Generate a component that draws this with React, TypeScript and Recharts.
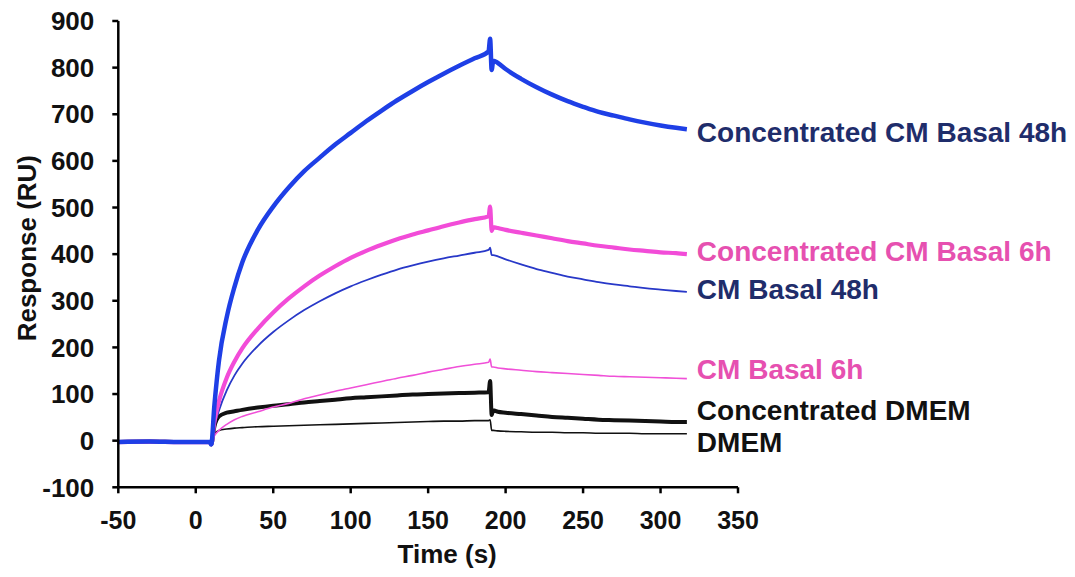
import React from "react";
import { LineChart, Line, XAxis, YAxis, Label } from "recharts";

const FONT = "'Liberation Sans', Arial, Helvetica, sans-serif";

const TIME = [-50, -30, -10, 0, 9, 10, 12, 15, 20, 25, 30, 40, 50, 60, 70, 80, 90, 100, 110, 120, 130, 140, 150, 160, 170, 180, 189, 190, 191, 192, 195, 200, 210, 220, 230, 240, 250, 260, 270, 280, 290, 300, 310, 317];

const CONC_48H = [-3, -2, -3, -3, -3, -8, 75, 172, 265, 330, 382, 452, 502, 543, 578, 607, 635, 660, 685, 708, 730, 750, 769, 787, 804, 820, 835, 862, 795, 815, 810, 797, 776, 758, 742, 728, 716, 705, 697, 689, 682, 676, 671, 668];
const CONC_6H = [-3, -2, -3, -3, -3, -8, 40, 85, 135, 170, 198, 240, 275, 305, 331, 354, 374, 392, 407, 420, 432, 442, 451, 460, 468, 475, 481, 502, 450, 458, 456, 452, 446, 440, 434, 428, 423, 418, 414, 410, 407, 404, 402, 400];
const CM_48H = [-3, -2, -3, -3, -3, -8, 30, 65, 108, 140, 165, 203, 233, 258, 280, 299, 316, 331, 344, 356, 367, 376, 384, 391, 397, 403, 409, 414, 398, 398, 395, 389, 378, 368, 360, 352, 346, 340, 335, 331, 327, 324, 321, 319];
const CM_6H = [-3, -2, -3, -3, -3, -8, 10, 22, 35, 45, 52, 62, 72, 80, 90, 98, 106, 113, 120, 127, 134, 140, 147, 153, 159, 164, 168, 175, 158, 158, 156, 154, 151, 148, 146, 144, 142, 140, 138, 137, 136, 135, 134, 133];
const CONC_DMEM = [-3, -2, -3, -3, -3, -8, 30, 52, 60, 63, 66, 71, 75, 78, 82, 85, 88, 91, 93, 95, 97, 99, 100, 101, 102, 103, 104, 128, 55, 65, 62, 60, 57, 54, 51, 49, 47, 45, 44, 43, 42, 41, 40, 40];
const DMEM = [-3, -2, -3, -3, -3, -8, 15, 22, 25, 27, 28, 30, 31, 32, 33, 34, 35, 36, 37, 38, 39, 40, 41, 42, 42, 43, 43, 45, 22, 22, 21, 20, 19, 18, 18, 17, 17, 16, 16, 16, 15, 15, 15, 15];

const X_TICKS = [-50, 0, 50, 100, 150, 200, 250, 300, 350];
const Y_TICKS = [-100, 0, 100, 200, 300, 400, 500, 600, 700, 800, 900];

const SERIES_NAMES = [
  "DMEM",
  "Concentrated DMEM",
  "CM Basal 6h",
  "CM Basal 48h",
  "Concentrated CM Basal 6h",
  "Concentrated CM Basal 48h",
];
const SERIES_VALUES = [DMEM, CONC_DMEM, CM_6H, CM_48H, CONC_6H, CONC_48H];

// styles (separate from data)
const LINE_COLORS = ["#111111", "#111111", "#f050d8", "#2838c8", "#f24cd8", "#1e3fe6"];
const TEXT_COLORS = ["#111111", "#111111", "#e650b0", "#1f2d6b", "#e650b0", "#1f2d6b"];
const LINE_WIDTHS = [1.6, 4, 1.6, 1.8, 4.2, 4.5];
const LABEL_DY = [9, -12, -9, -2, -3, 3];

const rows = TIME.map((t, i) => {
  const r: Record<string, number> = { t };
  SERIES_VALUES.forEach((vals, k) => {
    r["s" + k] = vals[i];
  });
  return r;
});

const lastIndex = TIME.length - 1;

const makeEndLabel = (k: number) => (props: any) => {
  const { x, y, index } = props;
  if (index !== lastIndex) return null;
  return (
    <text
      key={"lbl" + k}
      x={x + 10}
      y={y + LABEL_DY[k]}
      dominantBaseline="central"
      fill={TEXT_COLORS[k]}
      fontSize={28}
      fontWeight={700}
      fontFamily={FONT}
    >
      {SERIES_NAMES[k]}
    </text>
  );
};

const XTitle = (props: any) => {
  const vb = props.viewBox || { x: 118, y: 487, width: 620, height: 60 };
  const cx = vb.x + vb.width / 2 + 19;
  const cy = vb.y + 76;
  return (
    <text x={cx} y={cy} textAnchor="middle" fill="#111" fontSize={26} fontWeight={700} fontFamily={FONT}>
      Time (s)
    </text>
  );
};

const YTitle = (props: any) => {
  const vb = props.viewBox || { x: 18, y: 21, width: 100, height: 466 };
  const cx = vb.x + 9;
  const cy = vb.y + vb.height / 2 - 6;
  return (
    <text
      x={cx}
      y={cy}
      transform={`rotate(-90 ${cx} ${cy})`}
      textAnchor="middle"
      dominantBaseline="central"
      fill="#111"
      fontSize={26}
      fontWeight={700}
      fontFamily={FONT}
    >
      Response (RU)
    </text>
  );
};

const xTickStyle = { fill: "#111", fontSize: 25, fontWeight: 700, fontFamily: FONT };
const yTickStyle = { fill: "#111", fontSize: 26, fontWeight: 700, fontFamily: FONT };
const axisStroke = { stroke: "#000", strokeWidth: 2.5 };

export default function App() {
  return (
    <div style={{ width: 1075, height: 577, background: "#fff", overflow: "hidden" }}>
      <style>{`body{margin:0;background:#fff}`}</style>
      <LineChart
        width={1075}
        height={577}
        data={rows}
        margin={{ top: 21, right: 337, bottom: 29.7, left: 18.3 }}
      >
        <XAxis
          dataKey="t"
          type="number"
          domain={[-50, 350]}
          ticks={X_TICKS}
          interval={0}
          height={60}
          tickSize={6}
          tickMargin={18}
          axisLine={axisStroke}
          tickLine={axisStroke}
          tick={xTickStyle}
          allowDataOverflow
        >
          <Label content={XTitle} />
        </XAxis>
        <YAxis
          type="number"
          domain={[-100, 900]}
          ticks={Y_TICKS}
          interval={0}
          width={100}
          tickSize={6}
          tickMargin={18}
          axisLine={axisStroke}
          tickLine={axisStroke}
          tick={yTickStyle}
          allowDataOverflow
        >
          <Label content={YTitle} />
        </YAxis>
        {SERIES_NAMES.map((name, k) => (
          <Line
            key={name}
            name={name}
            dataKey={"s" + k}
            type="monotone"
            stroke={LINE_COLORS[k]}
            strokeWidth={LINE_WIDTHS[k]}
            dot={false}
            activeDot={false}
            isAnimationActive={false}
            label={makeEndLabel(k)}
          />
        ))}
      </LineChart>
    </div>
  );
}
